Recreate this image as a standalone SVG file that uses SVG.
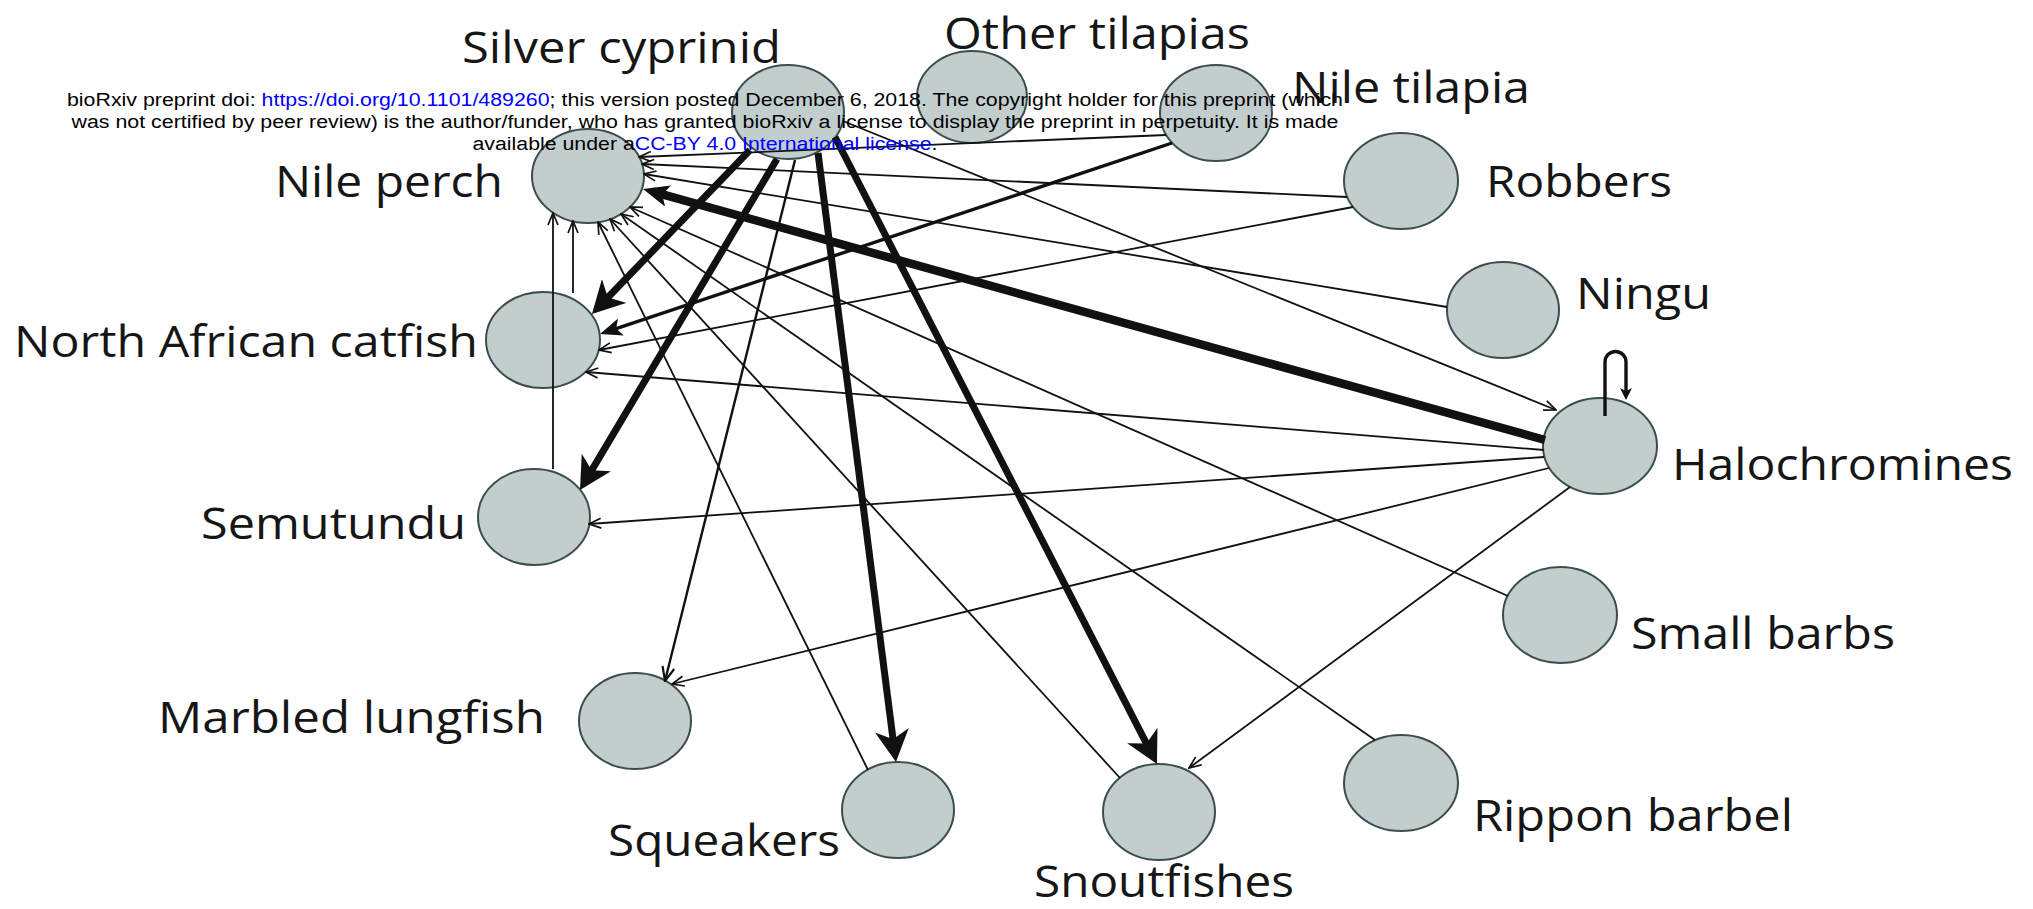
<svg xmlns="http://www.w3.org/2000/svg" width="2033" height="909" viewBox="0 0 2033 909">
  <style>
    .node ellipse { fill: #c2cece; stroke: #3d4d4d; stroke-width: 2; }
    .label { font-family: "Open Sans", "Noto Sans", sans-serif; font-size: 43px; fill: #161616; }
    .e { fill: none; stroke: #111; stroke-linecap: butt; }
    .thin { stroke-width: 1.8; marker-end: url(#arrThin); }
    .thick { stroke-width: 7; marker-end: url(#arrThick); }
    .stamp { font-family: "Liberation Sans", Arial, sans-serif; font-size: 17.6px; fill: #000; }
    .link { fill: #0000ff; }
  </style>
  <defs>
    <marker id="arrThin" markerUnits="userSpaceOnUse" viewBox="0 0 14 12" refX="13" refY="6" markerWidth="14" markerHeight="12" orient="auto">
      <path d="M1,1 L13,6 L1,11" fill="none" stroke="#111" stroke-width="1.7"/>
    </marker>
    <marker id="arrMid" markerUnits="userSpaceOnUse" viewBox="0 0 16 14" refX="15" refY="7" markerWidth="16" markerHeight="14" orient="auto">
      <path d="M1,1 L15,7 L1,13" fill="none" stroke="#111" stroke-width="2.2"/>
    </marker>
    <marker id="arrMed" markerUnits="userSpaceOnUse" viewBox="0 0 22 18" refX="16" refY="9" markerWidth="22" markerHeight="18" orient="auto">
      <path d="M22,9 L0,0 L5,9 L0,18 Z" fill="#111"/>
    </marker>
    <marker id="arrThick" markerUnits="userSpaceOnUse" viewBox="0 0 32 34" refX="22" refY="17" markerWidth="32" markerHeight="34" orient="auto">
      <path d="M32,17 L0,0 L9,17 L0,34 Z" fill="#111"/>
    </marker>
    <marker id="arrHeavy" markerUnits="userSpaceOnUse" viewBox="0 0 26 22" refX="16" refY="11" markerWidth="26" markerHeight="22" orient="auto">
      <path d="M26,11 L0,0 L6,11 L0,22 Z" fill="#111"/>
    </marker>
    <marker id="arrLoop" markerUnits="userSpaceOnUse" viewBox="0 0 12 12" refX="4" refY="6" markerWidth="12" markerHeight="12" orient="auto">
      <path d="M12,6 L0,0 L3,6 L0,12 Z" fill="#111"/>
    </marker>
  </defs>

  <rect x="0" y="0" width="2033" height="909" fill="#ffffff"/>

  <!-- species nodes -->
  <g id="silver-cyprinid" class="node">
    <ellipse cx="788" cy="112" rx="56" ry="47"/>
    <text class="label" x="462" y="63" textLength="319" lengthAdjust="spacingAndGlyphs">Silver cyprinid</text>
  </g>
  <g id="other-tilapias" class="node">
    <ellipse cx="972" cy="97" rx="55" ry="46"/>
    <text class="label" x="944" y="49" textLength="306" lengthAdjust="spacingAndGlyphs">Other tilapias</text>
  </g>
  <g id="nile-tilapia" class="node">
    <ellipse cx="1216" cy="113" rx="56" ry="48"/>
    <text class="label" x="1292" y="103" textLength="238" lengthAdjust="spacingAndGlyphs">Nile tilapia</text>
  </g>
  <g id="nile-perch" class="node">
    <ellipse cx="588" cy="176" rx="56" ry="47"/>
    <text class="label" x="275" y="197" textLength="228" lengthAdjust="spacingAndGlyphs">Nile perch</text>
  </g>
  <g id="robbers" class="node">
    <ellipse cx="1401" cy="181" rx="57" ry="48"/>
    <text class="label" x="1486" y="197" textLength="186" lengthAdjust="spacingAndGlyphs">Robbers</text>
  </g>
  <g id="ningu" class="node">
    <ellipse cx="1503" cy="310" rx="56" ry="48"/>
    <text class="label" x="1576" y="309" textLength="135" lengthAdjust="spacingAndGlyphs">Ningu</text>
  </g>
  <g id="north-african-catfish" class="node">
    <ellipse cx="543" cy="340" rx="57" ry="48"/>
    <text class="label" x="14" y="357" textLength="464" lengthAdjust="spacingAndGlyphs">North African catfish</text>
  </g>
  <g id="halochromines" class="node">
    <ellipse cx="1600" cy="446" rx="57" ry="48"/>
    <text class="label" x="1672" y="480" textLength="341" lengthAdjust="spacingAndGlyphs">Halochromines</text>
  </g>
  <g id="semutundu" class="node">
    <ellipse cx="534" cy="517" rx="56" ry="48"/>
    <text class="label" x="201" y="539" textLength="265" lengthAdjust="spacingAndGlyphs">Semutundu</text>
  </g>
  <g id="small-barbs" class="node">
    <ellipse cx="1560" cy="615" rx="57" ry="48"/>
    <text class="label" x="1631" y="649" textLength="264" lengthAdjust="spacingAndGlyphs">Small barbs</text>
  </g>
  <g id="marbled-lungfish" class="node">
    <ellipse cx="635" cy="721" rx="56" ry="48"/>
    <text class="label" x="158" y="733" textLength="387" lengthAdjust="spacingAndGlyphs">Marbled lungfish</text>
  </g>
  <g id="squeakers" class="node">
    <ellipse cx="898" cy="810" rx="56" ry="48"/>
    <text class="label" x="608" y="856" textLength="232" lengthAdjust="spacingAndGlyphs">Squeakers</text>
  </g>
  <g id="snoutfishes" class="node">
    <ellipse cx="1159" cy="812" rx="56" ry="48"/>
    <text class="label" x="1034" y="897" textLength="260" lengthAdjust="spacingAndGlyphs">Snoutfishes</text>
  </g>
  <g id="rippon-barbel" class="node">
    <ellipse cx="1401" cy="783" rx="57" ry="48"/>
    <text class="label" x="1473" y="831" textLength="320" lengthAdjust="spacingAndGlyphs">Rippon barbel</text>
  </g>

  <!-- trophic links (prey to predator) -->
  <g id="connectors">
    <!-- strong links -->
    <path class="e thick" d="M750,150 L598.9,306.8"/>
    <path class="e thick" d="M777,159 L585.1,481.4"/>
    <path class="e thick" d="M818,153 L894.7,752.1"/>
    <path class="e thick" d="M835,137 L1152.4,755.1"/>
    <path class="e" stroke-width="8.5" marker-end="url(#arrHeavy)" d="M1545,440 L652.6,191.7"/>
    <!-- medium links -->
    <path class="e" stroke-width="3.4" marker-end="url(#arrMed)" d="M1172,143 L605.7,332.1"/>
    <path class="e" stroke-width="2.4" marker-end="url(#arrMid)" d="M795,160 L665,681"/>
    <!-- weak links -->
    <path class="e thin" d="M843,121 L1556,410"/>
    <path class="e thin" d="M1347,197 L642,164"/>
    <path class="e thin" d="M1447,307 L644,174"/>
    <path class="e thin" d="M1166,135 L639,157"/>
    <path class="e thin" d="M1353,207 L599,350"/>
    <path class="e thin" d="M1544,450 L586,372"/>
    <path class="e thin" d="M1544,457 L589,524"/>
    <path class="e thin" d="M1549,468 L672,684"/>
    <path class="e thin" d="M1570,487 L1189,768"/>
    <path class="e thin" d="M1508,596 L630,207"/>
    <path class="e thin" d="M1375,740 L621,214"/>
    <path class="e thin" d="M1120,778 L610,219"/>
    <path class="e thin" d="M868,770 L598,222"/>
    <path class="e thin" d="M553,469 L553,213"/>
    <path class="e thin" d="M573,293 L573,221"/>
    <!-- cannibalism loop -->
    <path class="e" stroke-width="3.4" marker-end="url(#arrLoop)" d="M1605,416 V362 A10.5,10.5 0 0 1 1626,362 V392"/>
  </g>

  <!-- preprint stamp -->
  <g id="stamp">
    <text class="stamp" x="705" y="106" text-anchor="middle" textLength="1276" lengthAdjust="spacingAndGlyphs">bioRxiv preprint doi: <tspan class="link">https://doi.org/10.1101/489260</tspan>; this version posted December 6, 2018. The copyright holder for this preprint (which</text>
    <text class="stamp" x="705" y="128" text-anchor="middle" textLength="1267" lengthAdjust="spacingAndGlyphs">was not certified by peer review) is the author/funder, who has granted bioRxiv a license to display the preprint in perpetuity. It is made</text>
    <text class="stamp" x="705" y="150" text-anchor="middle" textLength="465" lengthAdjust="spacingAndGlyphs">available under a<tspan class="link">CC-BY 4.0 International license</tspan>.</text>
  </g>
</svg>
